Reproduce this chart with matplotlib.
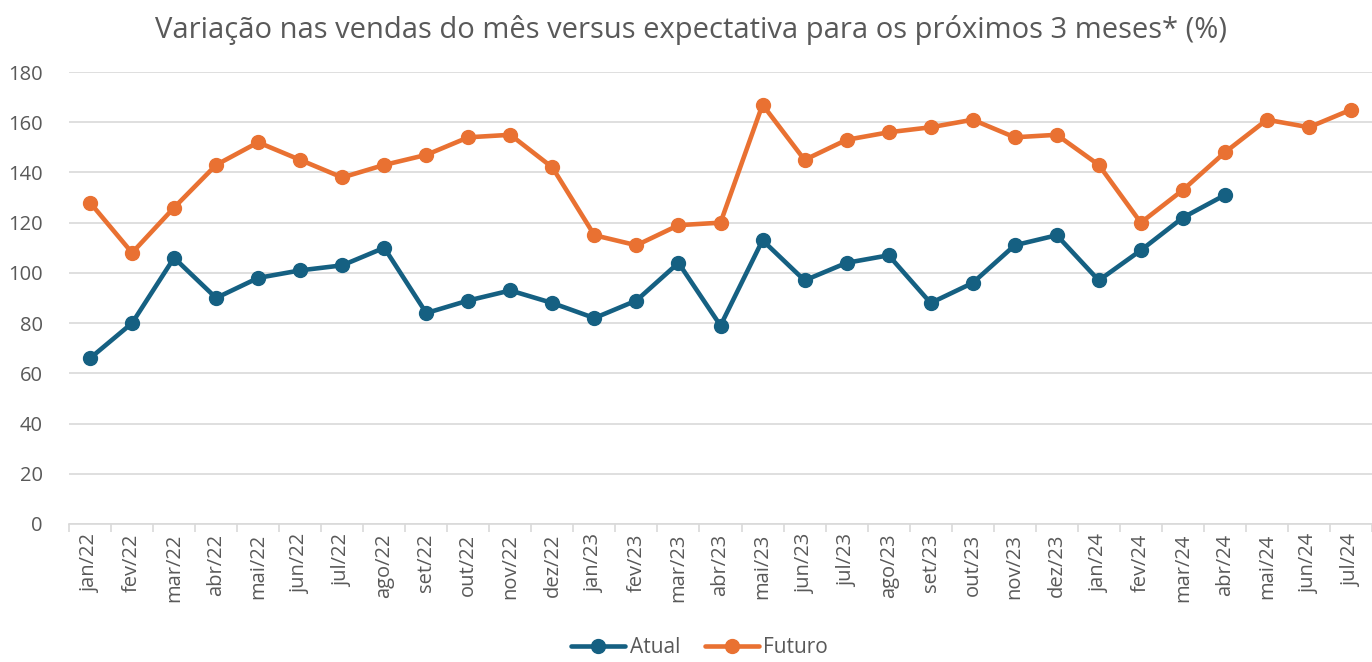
import matplotlib.pyplot as plt
import numpy as np

# Dados
meses = ['jan/22', 'fev/22', 'mar/22', 'abr/22', 'mai/22', 'jun/22', 'jul/22', 'ago/22',
         'set/22', 'out/22', 'nov/22', 'dez/22', 'jan/23', 'fev/23', 'mar/23', 'abr/23',
         'mai/23', 'jun/23', 'jul/23', 'ago/23', 'set/23', 'out/23', 'nov/23', 'dez/23',
         'jan/24', 'fev/24', 'mar/24', 'abr/24', 'mai/24', 'jun/24', 'jul/24']
atual = [66, 80, 106, 90, 98, 101, 103, 110, 84, 89, 93, 88, 82, 89, 104, 79,
         113, 97, 104, 107, 88, 96, 111, 115, 97, 109, 122, 131]
futuro = [128, 108, 126, 143, 152, 145, 138, 143, 147, 154, 155, 142, 115, 111, 119, 120,
          167, 145, 153, 156, 158, 161, 154, 155, 143, 120, 133, 148, 161, 158, 165]

azul = '#156082'
laranja = '#E97132'
cinza = '#595959'

plt.rcParams['font.family'] = ['Open Sans', 'DejaVu Sans']

fig = plt.figure(figsize=(13.72, 6.62), dpi=100)
ax = fig.add_axes([0.0503, 0.2085, 0.9497, 0.6827])

x = np.arange(len(meses))
ax.plot(x[:len(atual)], atual, color=azul, lw=3.3, marker='o', ms=10, label='Atual',
        solid_capstyle='round', zorder=3)
ax.plot(x[:len(futuro)], futuro, color=laranja, lw=3.3, marker='o', ms=10, label='Futuro',
        solid_capstyle='round', zorder=3)

ax.set_ylim(0, 180)
ax.set_yticks(range(0, 181, 20))
ax.set_xlim(-0.5, 30.36)
ax.set_xticks(x)
ax.set_xticklabels(meses, rotation=90)
ax.set_xticks(np.arange(-0.5, len(meses), 1), minor=True)

ax.grid(axis='y', color='#D9D9D9', lw=1.2)
ax.set_axisbelow(True)
for s in ['top', 'right', 'left']:
    ax.spines[s].set_visible(False)
ax.spines['bottom'].set_color('#D9D9D9')
ax.spines['bottom'].set_linewidth(1.2)

ax.tick_params(axis='y', length=0, labelsize=14.5, labelcolor=cinza, pad=19)
ax.tick_params(axis='x', which='major', length=0, labelsize=14.5, labelcolor=cinza, pad=7)
ax.tick_params(axis='x', which='minor', length=6, color='#D9D9D9', width=1.2)

fig.suptitle('Variação nas vendas do mês versus expectativa para os próximos 3 meses* (%)',
             x=0.504, y=0.978, fontsize=21, color=cinza)

fig.legend(loc='lower center', bbox_to_anchor=(0.51, -0.022), ncol=2, frameon=False,
           fontsize=15, labelcolor=cinza, handlelength=2.6, columnspacing=1.2,
           handletextpad=0.2)

fig.savefig('out.png', dpi=100)
